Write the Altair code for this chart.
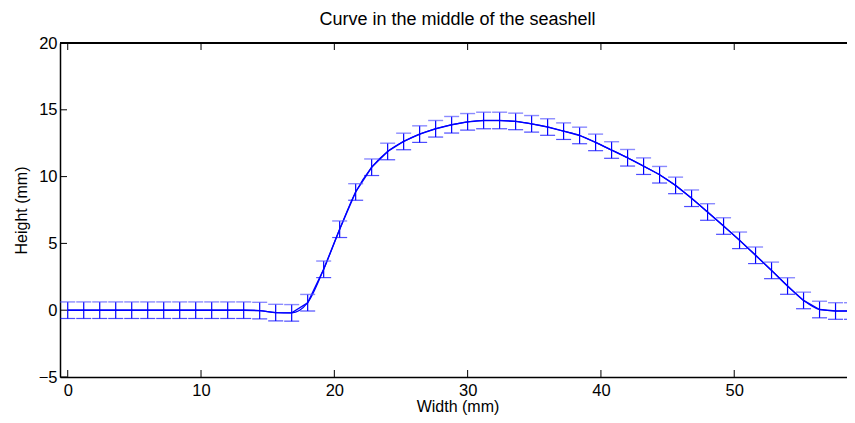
import altair as alt
import pandas as pd

# data
width_mm = [0.0, 1.2, 2.4, 3.6, 4.8, 6.0, 7.2, 8.4, 9.6, 10.8,
            12.0, 13.2, 14.4, 15.6, 16.8, 18.0, 19.2, 20.4, 21.6, 22.8,
            24.0, 25.2, 26.4, 27.6, 28.8, 30.0, 31.2, 32.4, 33.6, 34.8,
            36.0, 37.2, 38.4, 39.6, 40.8, 42.0, 43.2, 44.4, 45.6, 46.8,
            48.0, 49.2, 50.4, 51.6, 52.8, 54.0, 55.2, 56.4, 57.6, 58.8]
height_mm = [0, 0, 0, 0, 0, 0, 0, 0, 0, 0,
             0, 0, -0.03, -0.18, -0.2, 0.56, 3.06, 6.06, 8.85, 10.7,
             11.88, 12.63, 13.18, 13.58, 13.88, 14.1, 14.2, 14.2, 14.13, 13.95,
             13.71, 13.4, 13.08, 12.56, 11.99, 11.41, 10.78, 10.14, 9.34, 8.38,
             7.35, 6.3, 5.23, 4.11, 2.98, 1.81, 0.73, 0.05, -0.06, -0.06]
error_mm = [0.62] * 50

x_ticks = [0, 10, 20, 30, 40, 50]
y_ticks = [-5, 0, 5, 10, 15, 20]

df = pd.DataFrame({"w": width_mm, "h": height_mm, "e": error_mm})
df["lo"] = df["h"] - df["e"]
df["hi"] = df["h"] + df["e"]

W, H = 795, 334
FONT = "Liberation Sans"
BLUE = "#0000ff"

xs = alt.Scale(domain=[-0.58, 59.06], nice=False, zero=False)
ys = alt.Scale(domain=[-5, 20], nice=False, zero=False)

xenc = alt.X("w:Q", scale=xs, axis=alt.Axis(values=x_ticks, title="Width (mm)", ticks=False,
                                            labelPadding=5, titlePadding=0))
yenc = alt.Y("h:Q", scale=ys, axis=alt.Axis(values=y_ticks, title="Height (mm)", ticks=False,
                                            labelPadding=3, titlePadding=9))

base = alt.Chart(df)

line_lin = base.mark_line(color=BLUE, strokeWidth=1.4, clip=True).encode(x=xenc, y=yenc)
line_smooth = base.mark_line(color=BLUE, strokeWidth=1.2, interpolate="monotone", clip=True).encode(
    x=alt.X("w:Q", scale=xs), y=alt.Y("h:Q", scale=ys))
bars = base.mark_rule(color=BLUE, strokeWidth=1.2, clip=True).encode(
    x=alt.X("w:Q", scale=xs), y=alt.Y("lo:Q", scale=ys), y2="hi:Q")
cap_lo = base.mark_tick(color=BLUE, orient="horizontal", size=15, thickness=1.2, clip=True).encode(
    x=alt.X("w:Q", scale=xs), y=alt.Y("lo:Q", scale=ys))
cap_hi = base.mark_tick(color="#5a5aff", orient="horizontal", size=15, thickness=1.4, clip=True).encode(
    x=alt.X("w:Q", scale=xs), y=alt.Y("hi:Q", scale=ys))

xt = alt.Chart(pd.DataFrame({"t": x_ticks}))
yt = alt.Chart(pd.DataFrame({"t": y_ticks}))
tick_bottom = xt.mark_rule(color="black", strokeWidth=1).encode(
    x=alt.X("t:Q", scale=xs), y=alt.value(H), y2=alt.value(H - 7))
tick_top = xt.mark_rule(color="black", strokeWidth=1).encode(
    x=alt.X("t:Q", scale=xs), y=alt.value(0), y2=alt.value(7))
tick_left = yt.mark_rule(color="black", strokeWidth=1).encode(
    y=alt.Y("t:Q", scale=ys), x=alt.value(0), x2=alt.value(7))
top_border = xt.mark_rule(color="black", strokeWidth=1.5).encode(
    x=alt.value(0), x2=alt.value(W), y=alt.value(0))

chart = alt.layer(
    line_lin, line_smooth, bars, cap_lo, cap_hi, tick_bottom, tick_top, tick_left, top_border
).properties(
    width=W, height=H,
    title=alt.TitleParams("Curve in the middle of the seashell", fontSize=18, font=FONT,
                          fontWeight="normal", color="black", offset=6),
    autosize=alt.AutoSizeParams(type="none"),
    padding={"left": 52, "top": 35, "right": -8, "bottom": 38},
).configure_view(stroke=None).configure_axis(
    grid=False, domainColor="black", domainWidth=1.5,
    labelFont=FONT, labelFontSize=16.5, labelColor="black",
    titleFont=FONT, titleFontSize=16, titleFontWeight="normal", titleColor="black",
)

chart.save("out.html", embed_options={"renderer": "svg", "actions": False})
